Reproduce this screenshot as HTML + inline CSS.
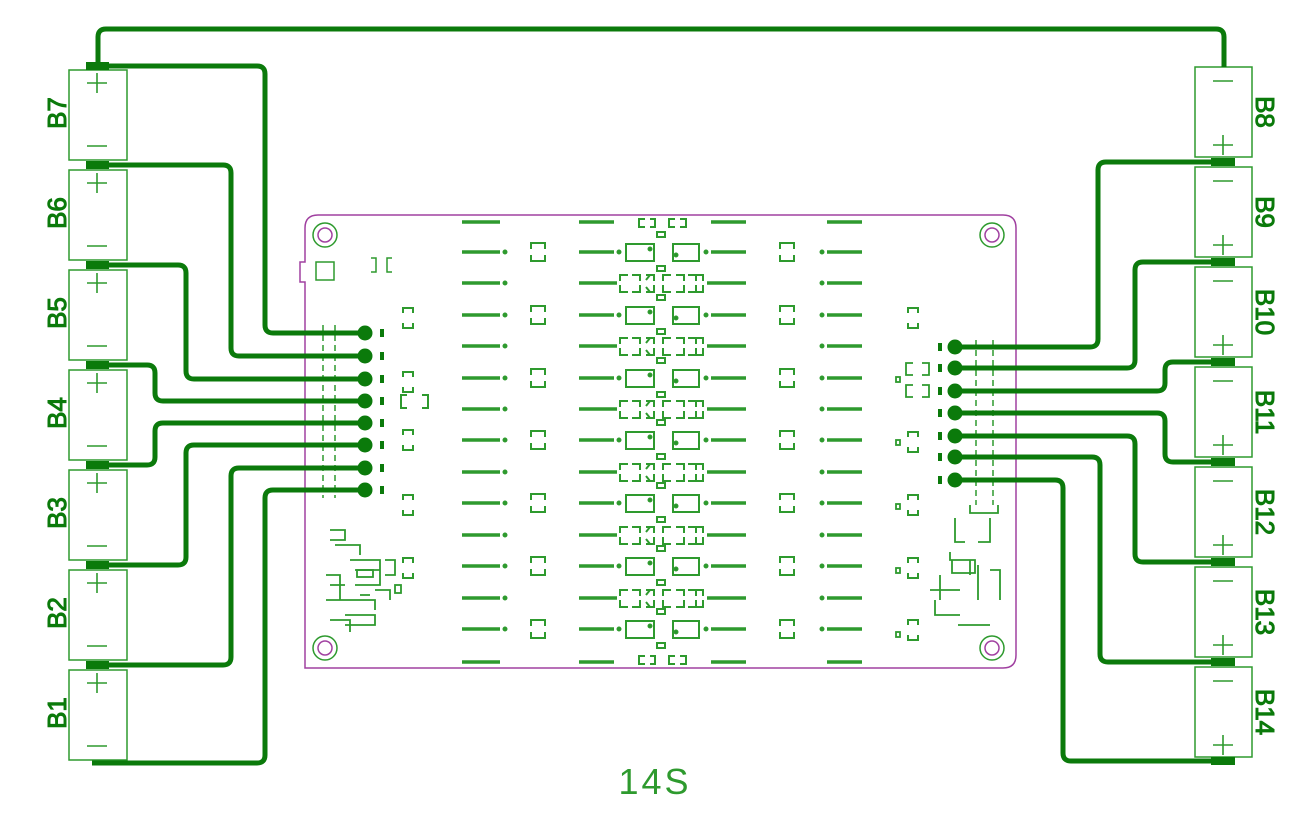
<!DOCTYPE html>
<html><head><meta charset="utf-8"><style>
html,body{margin:0;padding:0;background:#fff;}
svg{display:block;}
</style></head><body>
<svg width="1300" height="818" viewBox="0 0 1300 818" xmlns="http://www.w3.org/2000/svg">
<defs>
<g id="rowA" fill="none" stroke="#2e9a2e" stroke-width="2">
  <line x1="462" y1="0" x2="500" y2="0" stroke-width="3.5"/>
  <circle cx="505" cy="0" r="1.5" fill="#2e9a2e"/>
  <path d="M531,-3V-9H545V-3M531,3V9H545V3"/>
  <line x1="579" y1="0" x2="614" y2="0" stroke-width="3.5"/>
  <circle cx="619" cy="0" r="1.5" fill="#2e9a2e"/>
  <rect x="626" y="-8" width="28" height="17"/>
  <rect x="673" y="-8" width="26" height="17"/>
  <circle cx="650" cy="-3" r="1.5" fill="#1a7a1a"/>
  <circle cx="676" cy="3" r="1.5" fill="#1a7a1a"/>
  <rect x="657" y="-20" width="8" height="5"/>
  <rect x="657" y="14" width="8" height="5"/>
  <circle cx="706" cy="0" r="1.5" fill="#2e9a2e"/>
  <line x1="711" y1="0" x2="746" y2="0" stroke-width="3.5"/>
  <path d="M780,-3V-9H794V-3M780,3V9H794V3"/>
  <circle cx="822" cy="0" r="1.5" fill="#2e9a2e"/>
  <line x1="827" y1="0" x2="862" y2="0" stroke-width="3.5"/>
</g>
<g id="rowB" fill="none" stroke="#2e9a2e" stroke-width="2">
  <line x1="462" y1="0" x2="500" y2="0" stroke-width="3.5"/>
  <circle cx="505" cy="0" r="1.5" fill="#2e9a2e"/>
  <line x1="579" y1="0" x2="617" y2="0" stroke-width="3.5"/>
  <path d="M628,-8H620V-2M620,2V9H628M632,-8H640V-2M632,9H640V2M646,-8H654V-2M646,9H654V2M650,-8 646,-3M650,9 646,4"/>
  <path d="M671,-8H663V-2M671,9H663V2M676,-8H684V-2M676,9H684V2M688,-8H696V-2M688,9H696V2M696,-8H703V-2M703,2V9H696"/>
  <line x1="707" y1="0" x2="746" y2="0" stroke-width="3.5"/>
  <circle cx="822" cy="0" r="1.5" fill="#2e9a2e"/>
  <line x1="827" y1="0" x2="862" y2="0" stroke-width="3.5"/>
</g>
<g id="batL">
  <rect x="69" y="0" width="58" height="90" fill="none" stroke="#2e9a2e" stroke-width="1.5"/>
  <path d="M87,13H107M97,3V23M87,76H107" stroke="#2e9a2e" stroke-width="1.6"/>
</g>
<g id="batR">
  <rect x="1195" y="0" width="57" height="90" fill="none" stroke="#2e9a2e" stroke-width="1.5"/>
  <path d="M1213,14H1233M1213,78H1233M1223,68V88" stroke="#2e9a2e" stroke-width="1.6"/>
</g>
<path id="br" d="M0,-5V-10H10V-5M0,5V10H10V5" fill="none" stroke="#2e9a2e" stroke-width="2"/>
</defs>

<!-- board -->
<path d="M318,215H1003Q1016,215 1016,228V655Q1016,668 1003,668H305V282H300V262H305V228Q305,215 318,215Z" fill="none" stroke="#a040a0" stroke-width="1.5"/>
<g fill="none" stroke="#a040a0" stroke-width="1.5">
<circle cx="325" cy="235" r="7"/><circle cx="992" cy="235" r="7"/>
<circle cx="325" cy="648" r="7"/><circle cx="992" cy="648" r="7"/>
</g>
<g fill="none" stroke="#2e9a2e" stroke-width="1.5">
<circle cx="325" cy="235" r="12"/><circle cx="992" cy="235" r="12"/>
<circle cx="325" cy="648" r="12"/><circle cx="992" cy="648" r="12"/>
<rect x="316" y="262" width="18" height="18"/>
<path d="M371,258H376V272H371M392,258H387V272H392"/>
</g>

<!-- center rows -->
<g fill="none" stroke="#2e9a2e" stroke-width="3.5">
<path d="M462,222H500M579,222H614M711,222H746M827,222H862M462,662H500M579,662H614M711,662H746M827,662H862"/>
</g>
<g fill="none" stroke="#2e9a2e" stroke-width="2">
<path d="M645,219H639V227H645M650,219H655V227H650M675,219H669V227H675M680,219H686V227H680"/>
<path d="M645,656H639V664H645M650,656H655V664H650M675,656H669V664H675M680,656H686V664H680"/>
</g>
<use href="#rowA" y="252"/><use href="#rowB" y="283"/>
<use href="#rowA" y="315"/><use href="#rowB" y="346"/>
<use href="#rowA" y="378"/><use href="#rowB" y="409"/>
<use href="#rowA" y="440"/><use href="#rowB" y="472"/>
<use href="#rowA" y="503"/><use href="#rowB" y="535"/>
<use href="#rowA" y="566"/><use href="#rowB" y="598"/>
<use href="#rowA" y="629"/>

<!-- left side small parts -->
<use href="#br" x="403" y="318"/><use href="#br" x="403" y="382"/>
<use href="#br" x="403" y="440"/><use href="#br" x="403" y="505"/>
<use href="#br" x="403" y="568"/>
<path d="M407,395H401V408H407M422,395H428V408H422" fill="none" stroke="#2e9a2e" stroke-width="2"/>
<g fill="none" stroke="#2e9a2e" stroke-width="1.8">
<path d="M330,530H345V540H330M335,545H360V555M350,560H380V570M326,575H340V600H326M355,570H380V585H355M330,600H375V610M345,615H375V625H345M330,620H350V632M375,590H390V600M385,575H395V560H385M330,585H345M360,595H370"/>
<rect x="357" y="570" width="16" height="7"/>
<rect x="395" y="585" width="6" height="8"/>
</g>
<!-- right side small parts -->
<use href="#br" x="908" y="318"/><use href="#br" x="908" y="442"/>
<use href="#br" x="908" y="505"/><use href="#br" x="908" y="568"/>
<use href="#br" x="908" y="630"/>
<g fill="none" stroke="#2e9a2e" stroke-width="1.8">
<path d="M913,363H906V375H913M922,363H929V375H922M913,385H906V397H913M922,385H929V397H922"/>
<rect x="896" y="377" width="4" height="5"/><rect x="896" y="440" width="4" height="5"/>
<rect x="896" y="504" width="4" height="5"/><rect x="896" y="568" width="4" height="5"/>
<rect x="896" y="632" width="4" height="5"/>
<path d="M970,505V513H998V505M955,518V542H965M990,518V542H978M950,552V560H970V575M952,560H975V573H952ZM940,575V600M930,590H960M935,600V615H960M978,565V600M990,570H1000V600M958,625H990"/>
</g>

<!-- dashed verticals -->
<g stroke="#2e9a2e" stroke-width="1.5" stroke-dasharray="6,4">
<line x1="323" y1="325" x2="323" y2="498"/><line x1="335" y1="325" x2="335" y2="498"/>
<line x1="976" y1="340" x2="976" y2="505"/><line x1="993" y1="340" x2="993" y2="505"/>
</g>

<!-- batteries -->
<g>
<use href="#batL" y="70"/><use href="#batL" y="170"/><use href="#batL" y="270"/>
<use href="#batL" y="370"/><use href="#batL" y="470"/><use href="#batL" y="570"/><use href="#batL" y="670"/>
<use href="#batR" y="67"/><use href="#batR" y="167"/><use href="#batR" y="267"/>
<use href="#batR" y="367"/><use href="#batR" y="467"/><use href="#batR" y="567"/><use href="#batR" y="667"/>
</g>
<g fill="#0b7a0b">
<rect x="86" y="62" width="23" height="8"/><rect x="86" y="161" width="23" height="8"/>
<rect x="86" y="261" width="23" height="8"/><rect x="86" y="361" width="23" height="8"/>
<rect x="86" y="461" width="23" height="8"/><rect x="86" y="561" width="23" height="8"/>
<rect x="86" y="661" width="23" height="8"/>
<rect x="1211" y="158" width="24" height="8"/><rect x="1211" y="258" width="24" height="8"/>
<rect x="1211" y="358" width="24" height="8"/><rect x="1211" y="458" width="24" height="8"/>
<rect x="1211" y="558" width="24" height="8"/><rect x="1211" y="658" width="24" height="8"/>
<rect x="1211" y="757" width="24" height="8"/>
</g>

<!-- thick wires -->
<g fill="none" stroke="#0b7a0b" stroke-width="5" stroke-linejoin="round">
<path d="M98,65V37Q98,29 106,29H1216Q1224,29 1224,37V67"/>
<path d="M100,66H257Q265,66 265,74V325Q265,333 273,333H365"/>
<path d="M100,165H223Q231,165 231,173V348Q231,356 239,356H365"/>
<path d="M100,265H178Q186,265 186,273V371Q186,379 194,379H365"/>
<path d="M100,365H147Q155,365 155,373V393Q155,401 163,401H365"/>
<path d="M100,465H147Q155,465 155,457V431Q155,423 163,423H365"/>
<path d="M100,565H178Q186,565 186,557V453Q186,445 194,445H365"/>
<path d="M100,665H223Q231,665 231,657V476Q231,468 239,468H365"/>
<path d="M92,763H257Q265,763 265,755V498Q265,490 273,490H365"/>
<path d="M1220,162H1106Q1098,162 1098,170V339Q1098,347 1090,347H955"/>
<path d="M1220,262H1143Q1135,262 1135,270V360Q1135,368 1127,368H955"/>
<path d="M1220,362H1173Q1165,362 1165,370V383Q1165,391 1157,391H955"/>
<path d="M1220,462H1173Q1165,462 1165,454V421Q1165,413 1157,413H955"/>
<path d="M1220,562H1143Q1135,562 1135,554V444Q1135,436 1127,436H955"/>
<path d="M1220,662H1108Q1100,662 1100,654V465Q1100,457 1092,457H955"/>
<path d="M1228,761H1071Q1063,761 1063,753V488Q1063,480 1055,480H955"/>
</g>
<g fill="#0b7a0b">
<circle cx="365" cy="333" r="7.5"/><circle cx="365" cy="356" r="7.5"/><circle cx="365" cy="379" r="7.5"/>
<circle cx="365" cy="401" r="7.5"/><circle cx="365" cy="423" r="7.5"/><circle cx="365" cy="445" r="7.5"/>
<circle cx="365" cy="468" r="7.5"/><circle cx="365" cy="490" r="7.5"/>
<circle cx="955" cy="347" r="7.5"/><circle cx="955" cy="368" r="7.5"/><circle cx="955" cy="391" r="7.5"/>
<circle cx="955" cy="413" r="7.5"/><circle cx="955" cy="436" r="7.5"/><circle cx="955" cy="457" r="7.5"/>
<circle cx="955" cy="480" r="7.5"/>
</g>
<g fill="#0b7a0b">
<rect x="380" y="329" width="4" height="8"/><rect x="380" y="352" width="4" height="8"/>
<rect x="380" y="375" width="4" height="8"/><rect x="380" y="397" width="4" height="8"/>
<rect x="380" y="419" width="4" height="8"/><rect x="380" y="441" width="4" height="8"/>
<rect x="380" y="464" width="4" height="8"/><rect x="380" y="486" width="4" height="8"/>
<rect x="938" y="343" width="4" height="8"/><rect x="938" y="364" width="4" height="8"/>
<rect x="938" y="387" width="4" height="8"/><rect x="938" y="409" width="4" height="8"/>
<rect x="938" y="432" width="4" height="8"/><rect x="938" y="453" width="4" height="8"/>
<rect x="938" y="476" width="4" height="8"/>
</g>

<!-- labels -->
<g font-family="Liberation Sans, sans-serif" font-size="26" fill="#0b7a0b" stroke="#0b7a0b" stroke-width="1" text-anchor="middle">
<text transform="translate(66,113) rotate(-90)">B7</text>
<text transform="translate(66,213) rotate(-90)">B6</text>
<text transform="translate(66,313) rotate(-90)">B5</text>
<text transform="translate(66,413) rotate(-90)">B4</text>
<text transform="translate(66,513) rotate(-90)">B3</text>
<text transform="translate(66,613) rotate(-90)">B2</text>
<text transform="translate(66,713) rotate(-90)">B1</text>
<text transform="translate(1256,112) rotate(90)">B8</text>
<text transform="translate(1256,212) rotate(90)">B9</text>
<text transform="translate(1256,312) rotate(90)">B10</text>
<text transform="translate(1256,412) rotate(90)">B11</text>
<text transform="translate(1256,512) rotate(90)">B12</text>
<text transform="translate(1256,612) rotate(90)">B13</text>
<text transform="translate(1256,712) rotate(90)">B14</text>
</g>
<text x="655" y="794" font-family="Liberation Sans, sans-serif" font-size="36" fill="#2e9a2e" text-anchor="middle" letter-spacing="3">14S</text>
</svg>
</body></html>
